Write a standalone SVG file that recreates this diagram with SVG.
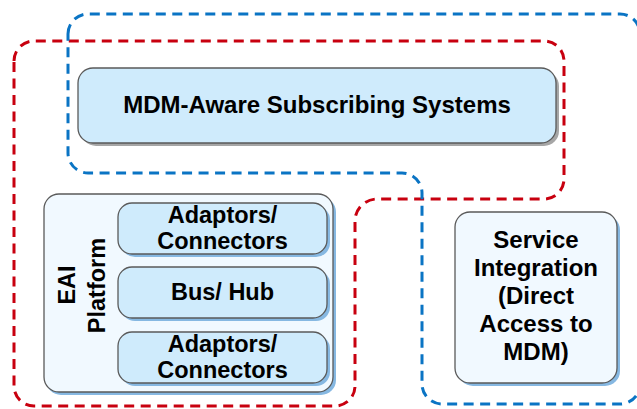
<svg xmlns="http://www.w3.org/2000/svg" width="637" height="409" viewBox="0 0 637 409">
<style>
  .box { stroke: #5a5a5a; stroke-width: 1.3; }
  .light { fill: #cfebfc; }
  .pale { fill: #f1f9ff; }
  .shg { fill: #a6a6a6; }
  .shb { fill: #86b8e2; }
  .t { font-family: "Liberation Sans", Arial, sans-serif; font-weight: bold; fill: #000; text-anchor: middle; }
  .dash { fill: none; stroke-width: 3; stroke-dasharray: 10 6.5; }
</style>
<rect width="637" height="409" fill="#ffffff"/>
<g id="groups">
  <path id="red-group" class="dash" stroke="#c8000f" d="M 14,61 A 20,20 0 0 1 34,41 H 544 A 20,20 0 0 1 564,61 V 179 A 20,20 0 0 1 544,199 H 377 A 22,22 0 0 0 355,221 V 386 A 20,20 0 0 1 335,406 H 34 A 20,20 0 0 1 14,386 Z"/>
  <path id="blue-group" class="dash" stroke="#0a74c4" d="M 68,34 A 20,20 0 0 1 88,14 H 620 A 20,20 0 0 1 640,34 V 384 A 20,20 0 0 1 620,404 H 442 A 20,20 0 0 1 422,384 V 193 A 20,20 0 0 0 402,173 H 88 A 20,20 0 0 1 68,153 Z"/>
</g>
<g id="mdm-aware">
  <rect class="shg" x="81" y="71" width="478" height="75" rx="15"/>
  <rect class="box light" x="78" y="68" width="478" height="75" rx="15"/>
  <text class="t" x="317" y="113" font-size="24">MDM-Aware Subscribing Systems</text>
</g>
<g id="eai-platform">
  <rect class="shb" x="46" y="197" width="290" height="198" rx="15"/>
  <rect class="box pale" x="44" y="194" width="289" height="198" rx="15"/>
  <text class="t" font-size="23.5" transform="translate(75,285) rotate(-90)">EAI</text>
  <text class="t" font-size="23.5" transform="translate(105,285.5) rotate(-90)">Platform</text>
</g>
<g id="adaptors-top">
  <rect class="shb" x="121" y="206" width="209" height="51" rx="14"/>
  <rect class="box light" x="118" y="203" width="209" height="51" rx="14"/>
  <text class="t" x="222.5" y="223" font-size="23.5">Adaptors/</text>
  <text class="t" x="222.5" y="249" font-size="23.5">Connectors</text>
</g>
<g id="bus-hub">
  <rect class="shb" x="121" y="270" width="209" height="51" rx="14"/>
  <rect class="box light" x="118" y="267" width="209" height="51" rx="14"/>
  <text class="t" x="222.5" y="300" font-size="23.5">Bus/ Hub</text>
</g>
<g id="adaptors-bottom">
  <rect class="shb" x="121" y="335" width="209" height="51" rx="14"/>
  <rect class="box light" x="118" y="332" width="209" height="51" rx="14"/>
  <text class="t" x="222.5" y="352" font-size="23.5">Adaptors/</text>
  <text class="t" x="222.5" y="378" font-size="23.5">Connectors</text>
</g>
<g id="service-integration">
  <rect class="shb" x="458" y="215" width="162" height="171" rx="15"/>
  <rect class="box pale" x="455" y="212" width="162" height="171" rx="15"/>
  <text class="t" x="536" y="248" font-size="24">Service</text>
  <text class="t" x="536" y="276" font-size="24">Integration</text>
  <text class="t" x="536" y="304" font-size="24">(Direct</text>
  <text class="t" x="536" y="332" font-size="24">Access to</text>
  <text class="t" x="536" y="360" font-size="24">MDM)</text>
</g>
</svg>
